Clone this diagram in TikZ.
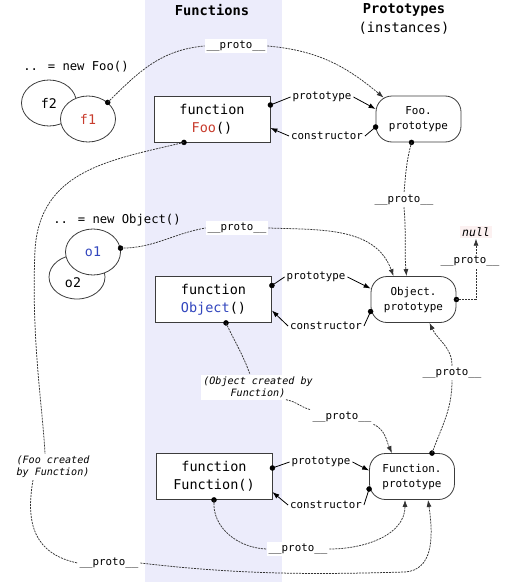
\documentclass[tikz,border=0pt]{standalone}
\usepackage{fontspec}
\setmainfont{DejaVu Sans Mono}
\usetikzlibrary{arrows.meta,shapes.geometric}
\definecolor{bandblue}{RGB}{236,236,251}
\definecolor{fooRed}{RGB}{200,60,45}
\definecolor{objBlue}{RGB}{50,70,190}
\definecolor{nullbg}{RGB}{252,241,241}
\definecolor{edgegray}{RGB}{60,60,60}
\newcommand{\dproto}{\_\_proto\_\_}
\tikzset{
  fnbox/.style={draw=edgegray, line width=0.8pt, fill=white, minimum width=116pt, minimum height=46pt, align=center, font=\fontsize{13.5}{18}\selectfont},
  protobox/.style={draw=edgegray, line width=0.8pt, fill=white, rounded corners=16pt, minimum width=85pt, minimum height=46pt, align=center, font=\fontsize{10.9}{15}\selectfont},
  inst/.style={ellipse, draw=edgegray, line width=0.8pt, fill=white, inner sep=0pt, minimum width=55pt, minimum height=46pt, font=\fontsize{13.3}{16}\selectfont},
  lbl/.style={fill=white, inner sep=2pt, font=\fontsize{10.8}{13}\selectfont},
  note/.style={fill=white, inner sep=2pt, align=center, font=\fontsize{10.1}{12}\selectfont\itshape},
  link/.style={draw=black!80, line width=0.75pt, dash pattern=on 2pt off 1pt},
  rel/.style={black, line width=0.8pt},
  tip/.style={-{Latex[length=7pt,width=5pt]}}
}
\begin{document}
\begin{tikzpicture}[x=1pt,y=1pt]
\useasboundingbox (0,0) rectangle (520,-586);
% column of functions
\fill[bandblue] (145,0) rectangle (282,-582);
\node[font=\fontsize{13.7}{18}\selectfont\bfseries] (hfun) at (212,-10) {Functions};
\node[font=\fontsize{13.7}{19}\selectfont, align=center] (hproto) at (404,-19) {\textbf{Prototypes}\\(instances)};

% instances
\node[font=\fontsize{12.2}{14}\selectfont] (newfoo) at (76,-67) {.. = new Foo()};
\node[inst] (f2) at (49,-103) {f2};
\node[inst, text=fooRed] (f1) at (88,-119) {f1};
\node[font=\fontsize{12.2}{14}\selectfont] (newobj) at (117,-220) {.. = new Object()};
\node[inst, minimum width=56pt, minimum height=44pt] (o2) at (77,-277) {};
\node[inst, text=objBlue] (o1) at (93,-252) {o1};
\node[font=\fontsize{13.3}{16}\selectfont] (o2txt) at ([shift={(-4pt,-6pt)}]o2.center) {o2};

% functions and prototypes
\node[fnbox] (foo) at (212,-119) {function\\\textcolor{fooRed}{Foo}()};
\node[fnbox] (obj) at (213.5,-299.5) {function\\\textcolor{objBlue}{Object}()};
\node[fnbox] (func) at (214,-476.5) {function\\Function()};
\node[protobox] (fooproto) at (418.5,-119) {Foo.\\prototype};
\node[protobox] (objproto) at (413.5,-299.5) {Object.\\prototype};
\node[protobox] (funcproto) at (412,-476.5) {Function.\\prototype};
\node[lbl, fill=nullbg, font=\fontsize{11.5}{13}\selectfont\itshape] (null) at (476,-232) {null};

% labels
\node[lbl] (pr1) at (236,-46) {\dproto};
\node[lbl] (pr2) at (404,-200) {\dproto};
\node[lbl] (pr3) at (237,-228) {\dproto};
\node[lbl] (pr4) at (470,-261) {\dproto};
\node[lbl] (pr5) at (452,-373) {\dproto};
\node[lbl] (pr6) at (342,-417) {\dproto};
\node[lbl] (pr7) at (109,-563) {\dproto};
\node[lbl] (pr8) at (298,-549) {\dproto};
\node[note] (objnote) at (258,-387) {(Object created by\\Function)};
\node[note] (foonote) at (53,-467) {(Foo created\\by Function)};
\node[lbl] (fooprl) at (322,-97) {prototype};
\node[lbl] (foocol) at (327,-136) {constructor};
\node[lbl] (objprl) at (316,-277) {prototype};
\node[lbl] (objcol) at (326,-326) {constructor};
\node[lbl] (funcprl) at (321,-462) {prototype};
\node[lbl] (funccol) at (326,-505) {constructor};

% prototype / constructor
\coordinate (fooA) at ([yshift=14pt]foo.east);
\coordinate (fooB) at ([yshift=-8pt]fooproto.west);
\filldraw[black] (fooA) circle (2.5pt);
\filldraw[black] (fooB) circle (2.5pt);
\draw[rel] (fooA) -- (fooprl.west);
\draw[rel,tip] (fooprl.east) -- ([yshift=10pt]fooproto.west);
\draw[rel] (fooB) -- (foocol.east);
\draw[rel,tip] (foocol.west) -- ([yshift=-9pt]foo.east);

\coordinate (objA) at ([yshift=14pt]obj.east);
\coordinate (objB) at ([yshift=-12pt]objproto.west);
\filldraw[black] (objA) circle (2.5pt);
\filldraw[black] (objB) circle (2.5pt);
\draw[rel] (objA) -- (objprl.west);
\draw[rel,tip] (objprl.east) -- ([yshift=11pt]objproto.west);
\draw[rel] (objB) -- (objcol.east);
\draw[rel,tip] (objcol.west) -- ([yshift=-11pt]obj.east);

\coordinate (funcA) at ([yshift=8.5pt]func.east);
\coordinate (funcB) at ([yshift=-12.5pt]funcproto.west);
\filldraw[black] (funcA) circle (2.5pt);
\filldraw[black] (funcB) circle (2.5pt);
\draw[rel] (funcA) -- (funcprl.west);
\draw[rel,tip] (funcprl.east) -- ([yshift=6pt]funcproto.west);
\draw[rel] (funcB) -- (funccol.east);
\draw[rel,tip] (funccol.west) -- ([yshift=-15.5pt]func.east);

% __proto__ chains
\coordinate (f1dot) at (f1.40);
\filldraw[black] (f1dot) circle (2.5pt);
\draw[link] (f1dot) to[out=45,in=185] (pr1.west);
\draw[link,tip] (pr1.east) to[out=-5,in=140] ([shift={(8pt,-2pt)}]fooproto.north west);

\coordinate (fpdot) at ([xshift=-7pt]fooproto.south);
\filldraw[black] (fpdot) circle (2.5pt);
\draw[link] (fpdot) to[out=-105,in=85] (pr2.north);
\draw[link,tip] (pr2.south) to[out=-85,in=95] ([xshift=-7pt]objproto.north);

\coordinate (o1dot) at (o1.8);
\filldraw[black] (o1dot) circle (2.5pt);
\draw[link] (o1dot) to[out=0,in=190] (pr3.west);
\draw[link,tip] (pr3.east) to[out=-2,in=110] ([xshift=-20pt]objproto.north);

\filldraw[black] (objproto.east) circle (2.5pt);
\draw[link] (objproto.east) -| (null.south |- pr4.south);
\draw[link,tip] (null.south |- pr4.north) -- (null.south);

\coordinate (fnpdot) at ([xshift=20pt]funcproto.north);
\filldraw[black] (fnpdot) circle (2.5pt);
\draw[link] (fnpdot) to[out=70,in=-90] (pr5.south);
\draw[link,tip] (pr5.north) to[out=90,in=-65] ([xshift=16pt]objproto.south);

\coordinate (objdot) at ([xshift=12.5pt]obj.south);
\filldraw[black] (objdot) circle (2.5pt);
\draw[link] (objdot) to[out=-65,in=110] ([xshift=-8pt]objnote.north);
\draw[link] ([xshift=28pt]objnote.south) to[out=-10,in=165] (pr6.north west);
\draw[link,tip] (pr6.south east) to[out=-25,in=115] ([xshift=-20pt]funcproto.north);

\coordinate (fndot) at (func.south);
\filldraw[black] (fndot) circle (2.5pt);
\draw[link] (fndot) to[out=-95,in=178] (pr8.west);
\draw[link,tip] (pr8.east) to[out=0,in=-90] ([xshift=-7pt]funcproto.south);

\coordinate (foodot) at ([xshift=-28pt]foo.south);
\filldraw[black] (foodot) circle (2.5pt);
\draw[link] (foodot) .. controls (110,-160) and (40,-170) .. (35,-250) .. controls (31,-340) and (43,-410) .. ([xshift=-8pt]foonote.north);
\draw[link] ([xshift=-20pt]foonote.south) to[out=-100,in=168,looseness=1.2] (pr7.west);
\draw[link,tip] (pr7.east) .. controls (250,-576) and (330,-574) .. (405,-572) .. controls (432,-570) and (434,-540) .. ([xshift=16pt]funcproto.south);
\end{tikzpicture}
\end{document}
